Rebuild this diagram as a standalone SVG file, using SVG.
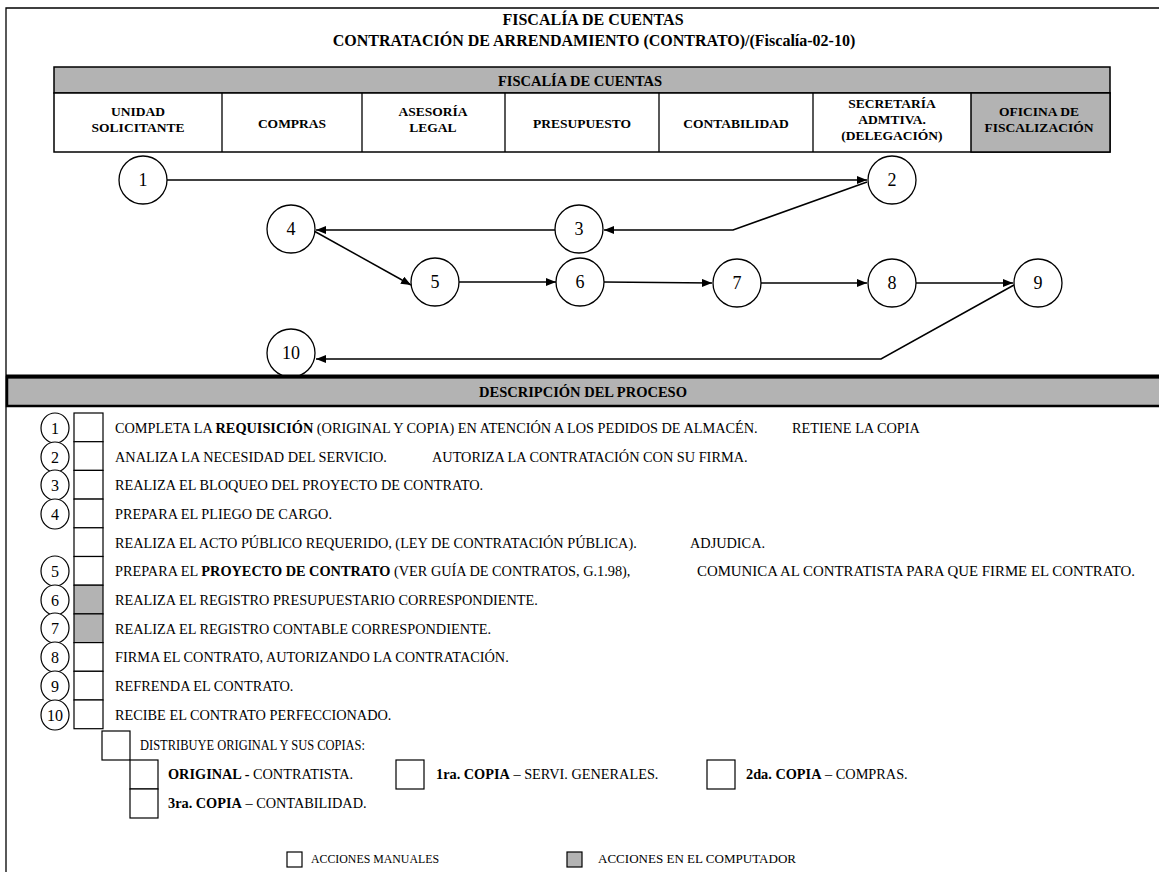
<svg xmlns="http://www.w3.org/2000/svg" width="1159" height="872" viewBox="0 0 1159 872">
<style>
text{font-family:"Liberation Serif","Times New Roman",serif;fill:#000}
.ti{font-size:16px;font-weight:bold;text-anchor:middle}
.h{font-size:13.5px;font-weight:bold;text-anchor:middle}
.bt{font-size:14.5px;font-weight:bold;text-anchor:middle}
.d{font-size:14.3px}
.lg{font-size:13px}
.b{font-weight:bold}
.ln{stroke:#000;stroke-width:1.3;fill:none}
.gray{fill:#b3b3b3}
.node circle{fill:#fff;stroke:#000;stroke-width:1.3}
.node text{font-size:18px;text-anchor:middle}
.dn ellipse{fill:#fff;stroke:#000;stroke-width:1.2}
.dn text{font-size:16px;text-anchor:middle}
.bx{fill:#fff;stroke:#000;stroke-width:1.2}
.bg{fill:#b3b3b3;stroke:#000;stroke-width:1.2}
#connectors line,#connectors polyline{stroke:#000;stroke-width:1.5;fill:none;marker-end:url(#arr)}
</style>
<defs>
<marker id="arr" markerUnits="userSpaceOnUse" markerWidth="12" markerHeight="10" refX="10" refY="4" orient="auto">
<path d="M0,0 L10,4 L0,8 Z" fill="#000"/>
</marker>
</defs>
<rect width="1159" height="872" fill="#fff"/>
<path class="ln" d="M6,872 V8 H1159" stroke-width="1.5"/>
<text class="ti" x="593" y="25">FISCALÍA DE CUENTAS</text>
<text class="ti" x="594" y="46">CONTRATACIÓN DE ARRENDAMIENTO (CONTRATO)/(Fiscalía-02-10)</text>
<g id="header">
<rect x="54" y="67" width="1056" height="26" class="gray" stroke="#000" stroke-width="1.5"/>
<rect x="54" y="93" width="1056" height="59" fill="#fff" stroke="#000" stroke-width="1.5"/>
<rect x="971" y="93" width="139" height="59" class="gray" stroke="#000" stroke-width="1.5"/>
<path class="ln" d="M222,93V152M362,93V152M505,93V152M659,93V152M813,93V152"/>
<text class="bt" x="580" y="86">FISCALÍA DE CUENTAS</text>
<text class="h" x="138" y="116">UNIDAD</text>
<text class="h" x="138" y="132">SOLICITANTE</text>
<text class="h" x="292" y="128">COMPRAS</text>
<text class="h" x="433" y="116">ASESORÍA</text>
<text class="h" x="433" y="132">LEGAL</text>
<text class="h" x="582" y="128">PRESUPUESTO</text>
<text class="h" x="736" y="128">CONTABILIDAD</text>
<text class="h" x="892" y="108">SECRETARÍA</text>
<text class="h" x="892" y="124">ADMTIVA.</text>
<text class="h" x="892" y="140">(DELEGACIÓN)</text>
<text class="h" x="1039" y="116">OFICINA DE</text>
<text class="h" x="1039" y="132">FISCALIZACIÓN</text>
</g>
<g id="connectors">
<line x1="167" y1="180" x2="867" y2="180"/>
<polyline points="867,182 733,230 604,230"/>
<line x1="555" y1="230" x2="316" y2="230"/>
<line x1="314" y1="231" x2="411" y2="285"/>
<line x1="459" y1="282" x2="556" y2="282"/>
<line x1="604" y1="282" x2="712" y2="283"/>
<line x1="761" y1="283" x2="867" y2="283"/>
<line x1="916" y1="283" x2="1013" y2="283"/>
<polyline points="1014,285 881,359 316,359"/>
</g>
<g id="n1" class="node"><circle cx="143" cy="180" r="24"/><text x="143" y="186">1</text></g>
<g id="n2" class="node"><circle cx="892" cy="180" r="24"/><text x="892" y="186">2</text></g>
<g id="n3" class="node"><circle cx="579" cy="229" r="24"/><text x="579" y="235">3</text></g>
<g id="n4" class="node"><circle cx="291" cy="229" r="24"/><text x="291" y="235">4</text></g>
<g id="n5" class="node"><circle cx="435" cy="282" r="24"/><text x="435" y="288">5</text></g>
<g id="n6" class="node"><circle cx="580" cy="282" r="24"/><text x="580" y="288">6</text></g>
<g id="n7" class="node"><circle cx="737" cy="283" r="24"/><text x="737" y="289">7</text></g>
<g id="n8" class="node"><circle cx="892" cy="283" r="24"/><text x="892" y="289">8</text></g>
<g id="n9" class="node"><circle cx="1038" cy="283" r="24"/><text x="1038" y="289">9</text></g>
<g id="n10" class="node"><circle cx="291" cy="353" r="24"/><text x="291" y="359">10</text></g>
<g id="desc-band">
<rect x="7" y="377" width="1160" height="29" class="gray" stroke="#000" stroke-width="2.5"/>
<line x1="6" y1="376.5" x2="1159" y2="376.5" stroke="#000" stroke-width="4"/>
<text class="bt" x="583" y="397">DESCRIPCIÓN DEL PROCESO</text>
</g>
<g id="desc">
<rect class="bx" x="74" y="413" width="29" height="28.7"/>
<rect class="bx" x="74" y="441.7" width="29" height="28.7"/>
<rect class="bx" x="74" y="470.4" width="29" height="28.7"/>
<rect class="bx" x="74" y="499.1" width="29" height="28.7"/>
<rect class="bx" x="74" y="527.8" width="29" height="28.7"/>
<rect class="bx" x="74" y="556.5" width="29" height="28.7"/>
<rect class="bg" x="74" y="585.2" width="29" height="28.7"/>
<rect class="bg" x="74" y="613.9" width="29" height="28.7"/>
<rect class="bx" x="74" y="642.6" width="29" height="28.7"/>
<rect class="bx" x="74" y="671.3" width="29" height="28.7"/>
<rect class="bx" x="74" y="700" width="29" height="28.7"/>
<g class="dn"><ellipse cx="55" cy="428" rx="14" ry="15"/><text x="55" y="434">1</text></g>
<g class="dn"><ellipse cx="55" cy="457" rx="14" ry="15"/><text x="55" y="463">2</text></g>
<g class="dn"><ellipse cx="55" cy="485" rx="14" ry="15"/><text x="55" y="491">3</text></g>
<g class="dn"><ellipse cx="55" cy="514" rx="14" ry="15"/><text x="55" y="520">4</text></g>
<g class="dn"><ellipse cx="55" cy="571" rx="14" ry="15"/><text x="55" y="577">5</text></g>
<g class="dn"><ellipse cx="55" cy="600" rx="14" ry="15"/><text x="55" y="606">6</text></g>
<g class="dn"><ellipse cx="55" cy="628" rx="14" ry="15"/><text x="55" y="634">7</text></g>
<g class="dn"><ellipse cx="55" cy="657" rx="14" ry="15"/><text x="55" y="663">8</text></g>
<g class="dn"><ellipse cx="55" cy="686" rx="14" ry="15"/><text x="55" y="692">9</text></g>
<g class="dn"><ellipse cx="55" cy="715" rx="14" ry="15"/><text x="55" y="721">10</text></g>
<text class="d" x="115" y="433">COMPLETA LA <tspan class="b">REQUISICIÓN</tspan> (ORIGINAL Y COPIA) EN ATENCIÓN A LOS PEDIDOS DE ALMACÉN.</text>
<text class="d" x="792" y="433">RETIENE LA COPIA</text>
<text class="d" x="115" y="462">ANALIZA LA NECESIDAD DEL SERVICIO.</text>
<text class="d" x="432" y="462">AUTORIZA LA CONTRATACIÓN CON SU FIRMA.</text>
<text class="d" x="115" y="490">REALIZA EL BLOQUEO DEL PROYECTO DE CONTRATO.</text>
<text class="d" x="115" y="519">PREPARA EL PLIEGO DE CARGO.</text>
<text class="d" x="115" y="548">REALIZA EL ACTO PÚBLICO REQUERIDO, (LEY DE CONTRATACIÓN PÚBLICA).</text>
<text class="d" x="690" y="548">ADJUDICA.</text>
<text class="d" x="115" y="576">PREPARA EL <tspan class="b">PROYECTO DE CONTRATO</tspan> (VER GUÍA DE CONTRATOS, G.1.98),</text>
<text class="d" x="697" y="576" textLength="438" lengthAdjust="spacingAndGlyphs">COMUNICA AL CONTRATISTA PARA QUE FIRME EL CONTRATO.</text>
<text class="d" x="115" y="605">REALIZA EL REGISTRO PRESUPUESTARIO CORRESPONDIENTE.</text>
<text class="d" x="115" y="634">REALIZA EL REGISTRO CONTABLE CORRESPONDIENTE.</text>
<text class="d" x="115" y="662">FIRMA EL CONTRATO, AUTORIZANDO LA CONTRATACIÓN.</text>
<text class="d" x="115" y="691">REFRENDA EL CONTRATO.</text>
<text class="d" x="115" y="720">RECIBE EL CONTRATO PERFECCIONADO.</text>
<rect class="bx" x="102" y="731" width="28" height="29"/>
<text class="d" x="140" y="750" textLength="225" lengthAdjust="spacingAndGlyphs">DISTRIBUYE ORIGINAL Y SUS COPIAS:</text>
<rect class="bx" x="130" y="760" width="28" height="29"/>
<text class="d" x="168" y="779"><tspan class="b">ORIGINAL -</tspan> CONTRATISTA.</text>
<rect class="bx" x="396" y="760" width="28" height="29"/>
<text class="d" x="436" y="779"><tspan class="b">1ra. COPIA</tspan> – SERVI. GENERALES.</text>
<rect class="bx" x="707" y="760" width="28" height="29"/>
<text class="d" x="746" y="779"><tspan class="b">2da. COPIA</tspan> – COMPRAS.</text>
<rect class="bx" x="130" y="789" width="28" height="29"/>
<text class="d" x="168" y="808"><tspan class="b">3ra. COPIA</tspan> – CONTABILIDAD.</text>
</g>
<g id="legend">
<rect class="bx" x="287" y="852" width="15" height="15"/>
<text class="lg" x="311" y="863" textLength="128" lengthAdjust="spacingAndGlyphs">ACCIONES MANUALES</text>
<rect class="bg" x="567" y="852" width="15" height="15"/>
<text class="lg" x="598" y="863" textLength="198" lengthAdjust="spacingAndGlyphs">ACCIONES EN EL COMPUTADOR</text>
</g>
</svg>
